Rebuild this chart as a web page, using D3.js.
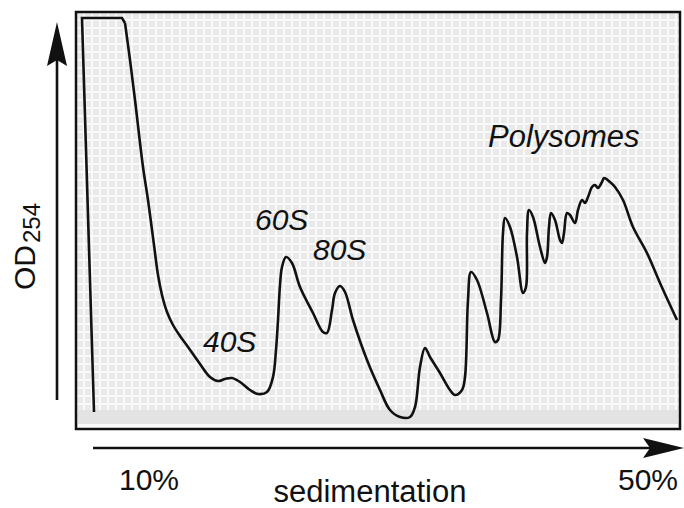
<!DOCTYPE html>
<html><head><meta charset="utf-8">
<script src="https://cdn.jsdelivr.net/npm/d3@7/dist/d3.min.js"></script>
<style>body{margin:0;background:#fff}</style></head>
<body><svg id="c" width="684" height="508"></svg>
<script>
// gradient position (arbitrary units along tube) and OD254 (arbitrary units)
const position = [18, 6, 46, 49, 54, 59, 67, 72, 78, 82, 86, 91, 97, 104, 112, 124, 134, 142, 149, 156, 164, 174, 182, 191, 197, 200, 202, 204, 206, 210, 216, 224, 237, 247, 251, 256, 259, 264, 269, 277, 291, 304, 314, 324, 334, 339, 344, 349, 354, 364, 374, 379, 386, 389, 392, 395, 401, 411, 419, 422, 425, 427, 429, 434, 441, 447, 450, 451, 453, 457, 464, 469, 471, 473, 475, 479, 484, 486, 488, 491, 494, 499, 502, 506, 509, 512, 516, 519, 522, 526, 528, 534, 539, 547, 557, 571, 584, 601];
const od = [16, 410, 410, 405, 368, 328, 261, 228, 183, 153, 133, 116, 103, 92, 81, 64, 51, 47, 49, 50, 46, 38, 34, 36, 51, 78, 108, 143, 161, 171, 165, 141, 115, 96, 95, 118, 135, 142, 136, 108, 68, 38, 18, 11, 11, 21, 61, 80, 71, 55, 38, 33, 38, 51, 128, 156, 148, 115, 86, 88, 128, 195, 210, 201, 171, 135, 141, 195, 218, 211, 181, 165, 171, 201, 215, 208, 188, 185, 195, 215, 213, 205, 218, 228, 225, 231, 241, 243, 240, 246, 250, 246, 241, 228, 201, 175, 145, 108];
const saturatedPoints = 4;
const tickValues = [73, 572];
const tickLabels = ["10%", "50%"];
const peakNames = ["40S", "60S", "80S", "Polysomes"];
const peakNameX = [127, 179, 237, 412];
const peakNameY = [76, 198, 168, 281];

const svg = d3.select("#c");
const box = {x0: 76, y0: 12, x1: 680, y1: 429};
const x = d3.scaleLinear().domain([0, 604]).range([box.x0, box.x1]);
const y = d3.scaleLinear().domain([0, 410]).range([428, 18]);
const font = "'Liberation Sans', Arial, Helvetica, sans-serif";

// background texture
const defs = svg.append("defs");
const pat = defs.append("pattern").attr("id", "grid").attr("patternUnits", "userSpaceOnUse")
  .attr("width", 8).attr("height", 8).attr("x", box.x0).attr("y", box.y0);
pat.append("rect").attr("width", 8).attr("height", 8).attr("fill", "#f9f9f9");
pat.append("rect").attr("x", 1).attr("y", 1).attr("width", 6).attr("height", 6).attr("fill", "#e9e9e9");

svg.append("rect").attr("x", box.x0).attr("y", box.y0).attr("width", box.x1 - box.x0).attr("height", box.y1 - box.y0)
  .attr("fill", "url(#grid)");
svg.append("rect").attr("x", box.x0 + 2).attr("y", 410).attr("width", box.x1 - box.x0 - 4).attr("height", 15)
  .attr("fill", "#e3e3e3");
svg.append("rect").attr("x", box.x0 + 2).attr("y", 424).attr("width", box.x1 - box.x0 - 4).attr("height", 3)
  .attr("fill", "#fafafa");
svg.append("rect").attr("x", box.x0).attr("y", box.y0).attr("width", box.x1 - box.x0).attr("height", box.y1 - box.y0)
  .attr("fill", "none").attr("stroke", "#111").attr("stroke-width", 2.5);

// trace
const pts = position.map((p, i) => [p, od[i]]);
const lineLin = d3.line().x(d => x(d[0])).y(d => y(d[1]));
const lineSmooth = d3.line().x(d => x(d[0])).y(d => y(d[1])).curve(d3.curveCatmullRom.alpha(0.5));
svg.append("path").attr("d", lineLin(pts.slice(0, saturatedPoints)))
  .attr("fill", "none").attr("stroke", "#111").attr("stroke-width", 2.6).attr("stroke-linejoin", "miter");
svg.append("path").attr("d", lineSmooth(pts.slice(saturatedPoints - 1)))
  .attr("fill", "none").attr("stroke", "#111").attr("stroke-width", 2.6).attr("stroke-linejoin", "round");

// peak labels
peakNames.forEach((n, i) => {
  svg.append("text").attr("x", x(peakNameX[i])).attr("y", y(peakNameY[i]))
    .attr("font-family", font).attr("font-style", "italic")
    .attr("font-size", n === "Polysomes" ? 31 : 30).attr("fill", "#111").text(n);
});

// y arrow
svg.append("line").attr("x1", 57).attr("x2", 57).attr("y1", 400).attr("y2", 55)
  .attr("stroke", "#111").attr("stroke-width", 2.6);
svg.append("path").attr("d", "M57,22 L67,66 L57,60 L47,66 Z").attr("fill", "#111");

// x arrow
svg.append("line").attr("x1", 93).attr("x2", 655).attr("y1", 448).attr("y2", 448)
  .attr("stroke", "#111").attr("stroke-width", 2.6);
svg.append("path").attr("d", "M684,448 L643,438 L650,448 L643,458 Z").attr("fill", "#111");

// tick labels
tickValues.forEach((v, i) => {
  svg.append("text").attr("x", x(v)).attr("y", 490).attr("text-anchor", "middle")
    .attr("font-family", font).attr("font-size", 30).attr("fill", "#111").text(tickLabels[i]);
});
svg.append("text").attr("x", 370).attr("y", 502).attr("text-anchor", "middle")
  .attr("font-family", font).attr("font-size", 31).attr("fill", "#111").text("sedimentation");

// y label
const yl = svg.append("text").attr("transform", "translate(35,290) rotate(-90)")
  .attr("font-family", font).attr("font-size", 30).attr("fill", "#111");
yl.append("tspan").text("OD");
yl.append("tspan").attr("dy", 5).attr("dx", 2).attr("font-size", 24).text("254");
</script></body></html>
